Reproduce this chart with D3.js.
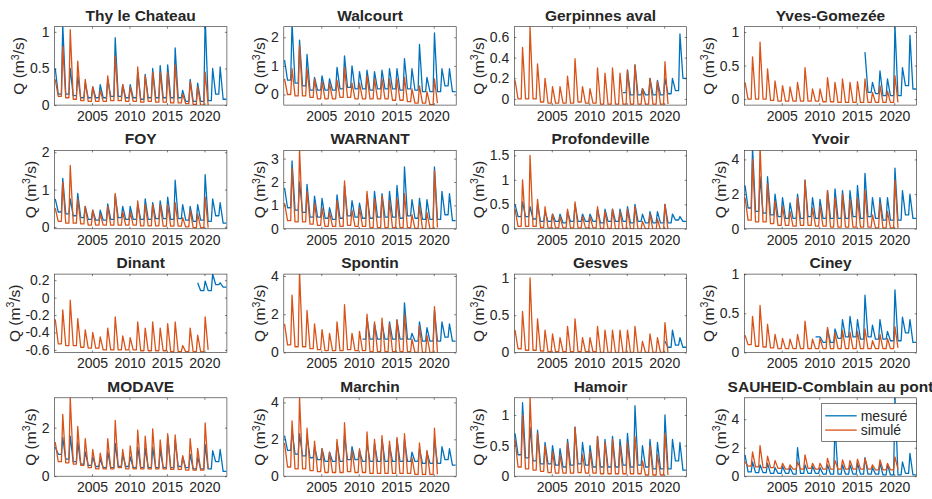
<!DOCTYPE html>
<html><head><meta charset="utf-8">
<script src="https://cdn.jsdelivr.net/npm/d3@7"></script>
<style>
body{margin:0;background:#fff}
svg{display:block}
text{font-family:Arial,"Liberation Sans",Helvetica,sans-serif;fill:#262626}
</style>
</head><body><svg id="c" width="932" height="499"></svg>
<script>
// ---------- data ----------
const stations = ["Thy le Chateau","Walcourt","Gerpinnes aval","Yves-Gomezée",
  "FOY","WARNANT","Profondeville","Yvoir",
  "Dinant","Spontin","Gesves","Ciney",
  "MODAVE","Marchin","Hamoir","SAUHEID-Comblain au pont"];
const xDomain = [2000, 2023];
const xTicks = [2005, 2010, 2015, 2020];
const yDomains = [[0,1.07],[-0.37,2.37],[-0.06,0.7],[-0.09,1.08],
  [-0.05,2.05],[0,3.35],[0,1.6],[0,4.52],
  [-0.63,0.27],[0,4.1],[0,1.05],[0,1],
  [0,3.23],[0,4.25],[0,1.28],[0,5.5]];
const yTicks = [[0,0.5,1],[0,1,2],[0,0.2,0.4,0.6],[0,0.5,1],
  [0,1,2],[0,1,2,3],[0,0.5,1,1.5],[0,2,4],
  [-0.6,-0.4,-0.2,0,0.2],[0,2,4],[0,0.5,1],[0,0.5,1],
  [0,2],[0,2,4],[0,0.5,1],[0,2,4]];
// measured series: first year, first time shown
const mesStartYear = [2000,2000,2014,2016,2000,2000,2000,2000,2019,2010,2020,2009,2000,2000,2000,2000];
const mesStartT    = [2000,2000,2014.4,2016,2000,2000,2000,2000,2019,2010.3,2019.9,2009.4,2000,2000,2000,2000];
const simEndT = 2020.7;
const legendLabels = ["mesuré","simulé"];

// yearly winter peak (P) and summer low (L); mes = mesuré, sim = simulé
const thyMesP=[0.5,1.1,0.5,0.4,0.3,0.25,0.28,0.35,0.92,0.28,0.28,0.45,0.42,0.5,0.54,0.55,0.78,0.2,0.35,0.3,1.2,0.5,0.52];
const thyMesL=[0.15,0.15,0.13,0.1,0.1,0.1,0.1,0.12,0.12,0.1,0.1,0.08,0.1,0.1,0.1,0.1,0.1,0.05,0.05,0.05,0.06,0.15,0.08];
const thySimP=[0.35,0.8,1.03,0.6,0.35,0.25,0.2,0.4,0.67,0.28,0.25,0.52,0.4,0.45,0.45,0.45,0.55,0.15,0.32,0.25,0.45];
const thySimL=[0.12,0.1,0.08,0.06,0.05,0.05,0.05,0.06,0.06,0.05,0.05,0.04,0.05,0.04,0.04,0.03,0.03,0.02,0.01,0.0,0.0];

const walMesP=[1.2,2.5,1.9,1.4,0.6,0.65,0.55,0.95,1.35,1.0,0.8,0.85,0.8,0.85,0.9,0.9,1.25,0.9,1.75,0.6,2.15,0.9,0.9];
const walMesL=[0.5,0.4,0.3,0.15,0.15,0.15,0.15,0.2,0.25,0.2,0.2,0.15,0.2,0.2,0.2,0.15,0.2,0.15,0.1,0.1,0.1,0.3,0.1];
const walSimP=[0.55,0.9,1.7,0.9,0.55,0.45,0.4,0.5,0.95,0.4,0.4,0.65,0.55,0.55,0.55,0.55,0.6,0.2,0.3,0.1,0.55];
const walSimL=[0.0,-0.05,-0.05,-0.1,-0.15,-0.15,-0.15,-0.1,-0.1,-0.15,-0.15,-0.15,-0.15,-0.15,-0.2,-0.2,-0.25,-0.3,-0.3,-0.35,-0.3];

const gerMesP=[null,0.28,0.33,0.1,0.2,0.18,0.2,0.2,0.63];
const gerMesL=[0.06,0.04,0.04,0.04,0.04,0.04,0.05,0.08,0.2];
const gerSimP=[0.18,0.5,0.7,0.34,0.2,0.12,0.12,0.22,0.39,0.12,0.1,0.3,0.25,0.3,0.25,0.28,0.33,0.1,0.2,0.17,0.36];
const gerSimL=[0.0,0.0,0.0,-0.03,-0.04,-0.04,-0.04,-0.04,-0.03,-0.04,-0.04,-0.05,-0.05,-0.05,-0.05,-0.05,-0.05,-0.05,-0.05,-0.05,-0.05];

const yveMesP=[0.7,0.25,0.42,0.3,1.1,0.47,0.95];
const yveMesL=[0.1,0.08,0.05,0.05,0.05,0.2,0.15];
const yveSimP=[0.25,0.63,0.85,0.45,0.27,0.2,0.18,0.25,0.47,0.15,0.15,0.32,0.25,0.3,0.25,0.26,0.3,0.1,0.2,0.12,0.35];
const yveSimL=[0.0,0.0,0.0,-0.02,-0.03,-0.03,-0.03,-0.03,-0.03,-0.03,-0.04,-0.04,-0.05,-0.05,-0.05,-0.05,-0.05,-0.05,-0.05,-0.05,-0.05];

const foyMesP=[0.75,1.3,0.75,0.9,0.55,0.45,0.45,0.62,0.85,0.55,0.55,0.6,0.75,0.65,0.7,0.8,1.25,0.6,0.55,0.6,1.4,0.75,0.65];
const foyMesL=[0.4,0.35,0.3,0.25,0.2,0.18,0.18,0.2,0.25,0.2,0.2,0.2,0.2,0.22,0.22,0.2,0.22,0.18,0.15,0.18,0.15,0.3,0.1];
const foySimP=[0.5,1.2,1.65,0.75,0.55,0.45,0.35,0.55,0.9,0.4,0.4,0.7,0.6,0.6,0.6,0.6,0.65,0.25,0.45,0.35,0.8];
const foySimL=[0.15,0.1,0.1,0.08,0.05,0.05,0.05,0.05,0.05,0.05,0.05,0.03,0.03,0.03,0.02,0.02,0.02,0.0,-0.02,-0.02,-0.02];

const warMesP=[1.75,2.9,2.0,1.9,1.4,1.3,0.9,1.45,1.85,1.2,1.1,1.45,1.6,1.5,1.6,1.85,2.65,1.25,1.3,1.25,2.65,1.6,1.5];
const warMesL=[0.9,0.8,0.7,0.5,0.5,0.45,0.4,0.45,0.55,0.5,0.45,0.45,0.5,0.5,0.5,0.45,0.55,0.45,0.4,0.4,0.4,0.6,0.35];
const warSimP=[1.1,2.6,3.4,1.6,1.1,0.9,0.7,1.2,2.05,0.8,0.9,1.6,1.3,1.4,1.2,1.3,1.5,0.6,1.0,0.7,2.5];
const warSimL=[0.35,0.3,0.3,0.2,0.15,0.1,0.1,0.1,0.15,0.1,0.1,0.05,0.05,0.05,0.05,0.05,0.05,0.02,0.0,0.0,0.05];

const proMesP=[0.5,0.55,0.45,0.5,0.35,0.3,0.3,0.35,0.5,0.3,0.3,0.4,0.4,0.4,0.4,0.45,0.5,0.3,0.35,0.35,0.5,0.3,0.25];
const proMesL=[0.25,0.25,0.2,0.15,0.15,0.15,0.12,0.15,0.15,0.15,0.15,0.12,0.15,0.15,0.15,0.12,0.15,0.12,0.12,0.12,0.12,0.18,0.15];
const proSimP=[0.4,1.0,1.5,0.6,0.45,0.3,0.25,0.4,0.55,0.25,0.25,0.45,0.35,0.4,0.35,0.4,0.45,0.15,0.3,0.2,0.5];
const proSimL=[0.05,0.05,0.05,0.03,0.02,0.02,0.02,0.02,0.02,0.02,0.02,0.01,0.01,0,0,0,0,0,-0.02,-0.02,-0.02];

const yvoMesP=[2.5,4.7,3.0,3.0,2.0,1.8,1.5,2.0,2.8,1.8,1.7,2.2,2.3,2.2,2.2,2.5,3.2,1.8,1.8,1.8,3.5,2.2,2.0];
const yvoMesL=[1.2,1.0,0.9,0.8,0.7,0.6,0.6,0.6,0.7,0.6,0.6,0.6,0.6,0.6,0.7,0.6,0.7,0.6,0.5,0.5,0.5,0.8,0.6];
const yvoSimP=[1.8,4.0,4.8,2.6,1.6,1.3,1.0,1.8,2.8,1.2,1.3,2.2,1.8,2.0,1.7,1.8,2.2,0.8,1.5,1.0,2.8];
const yvoSimL=[0.5,0.4,0.4,0.3,0.2,0.2,0.15,0.2,0.2,0.15,0.15,0.1,0.1,0.1,0.1,0.1,0.1,0.05,0.05,0.05,0.05];

const dinMesP=[0.17,0.19,0.27,0.17];
const dinMesL=[0.08,0.08,0.15,0.12];
const dinSimP=[-0.25,-0.14,-0.03,-0.24,-0.37,-0.4,-0.45,-0.35,-0.22,-0.44,-0.46,-0.28,-0.35,-0.28,-0.35,-0.3,-0.28,-0.55,-0.35,-0.43,-0.22];
const dinSimL=[-0.53,-0.55,-0.55,-0.57,-0.58,-0.58,-0.6,-0.6,-0.6,-0.6,-0.6,-0.61,-0.61,-0.61,-0.61,-0.62,-0.62,-0.62,-0.62,-0.62,-0.6];

const spoMesP=[1.2,1.8,1.5,1.5,1.6,1.7,2.6,1.0,1.6,1.3,2.2,1.6,1.5];
const spoMesL=[0.7,0.7,0.7,0.7,0.7,0.7,0.7,0.6,0.6,0.6,0.6,0.8,0.6];
const spoSimP=[1.5,3.0,4.2,2.2,1.5,1.2,1.0,1.6,2.5,1.0,1.1,2.0,1.6,1.8,1.5,1.7,2.0,0.7,1.4,0.9,2.4];
const spoSimL=[0.4,0.3,0.3,0.2,0.15,0.1,0.1,0.1,0.15,0.1,0.1,0.05,0.05,0.05,0.05,0.05,0.05,0,0,0,0];

const gesMesP=[0.15,0.3,0.2];
const gesMesL=[0.07,0.1,0.07];
const gesSimP=[0.3,0.55,1.0,0.45,0.3,0.25,0.2,0.35,0.45,0.2,0.2,0.35,0.3,0.3,0.3,0.3,0.35,0.15,0.25,0.2,0.4];
const gesSimL=[0.05,0.03,0.03,0.02,0.01,0.01,0.01,0.01,0.01,0.01,0.01,0,0,0,0,0,0,0,0,0,0];

const cinMesP=[null,0.2,0.3,0.3,0.42,0.46,0.42,0.73,0.35,0.42,0.27,0.8,0.45,0.42];
const cinMesL=[0.2,0.13,0.13,0.18,0.2,0.2,0.17,0.2,0.17,0.17,0.15,0.15,0.25,0.13];
const cinSimP=[0.22,0.46,0.6,0.36,0.23,0.18,0.17,0.23,0.4,0.17,0.18,0.32,0.25,0.28,0.26,0.27,0.3,0.15,0.23,0.18,0.33];
const cinSimL=[0.1,0.08,0.07,0.06,0.05,0.05,0.05,0.05,0.05,0.05,0.05,0.05,0.05,0.05,0.05,0.05,0.05,0.05,0.05,0.05,0.06];

const modMesP=[1.2,1.6,1.65,1.4,1.0,0.8,0.7,1.0,1.35,0.9,0.8,1.2,1.15,1.2,1.1,1.65,1.5,0.8,0.9,0.8,1.3,1.05,1.1];
const modMesL=[0.9,0.7,0.6,0.5,0.45,0.4,0.35,0.35,0.4,0.4,0.35,0.35,0.35,0.35,0.35,0.35,0.4,0.35,0.3,0.3,0.3,0.6,0.2];
const modSimP=[1.4,2.55,3.25,2.05,1.55,1.1,0.95,1.55,2.3,1.1,1.25,1.9,1.65,1.95,1.5,1.75,1.7,0.85,1.55,1.15,2.2];
const modSimL=[0.6,0.55,0.5,0.45,0.35,0.3,0.3,0.3,0.35,0.3,0.3,0.3,0.3,0.3,0.3,0.28,0.28,0.25,0.25,0.25,0.3];

const marMesP=[2.2,2.5,2.3,2.2,1.6,1.5,1.3,1.8,2.2,1.6,1.4,1.8,1.8,2.0,1.7,2.0,2.0,1.3,1.5,1.3,2.0,1.6,1.5];
const marMesL=[1.4,1.2,1.1,1.0,0.9,0.8,0.8,0.8,0.9,0.9,0.8,0.8,0.8,0.8,0.8,0.8,0.8,0.8,0.7,0.7,0.7,0.9,0.6];
const marSimP=[1.8,3.0,4.3,2.6,1.9,1.5,1.3,2.0,2.9,1.4,1.5,2.4,2.0,2.2,1.9,2.1,2.3,1.0,1.8,1.4,2.6];
const marSimL=[0.5,0.4,0.4,0.3,0.25,0.2,0.2,0.2,0.25,0.2,0.2,0.15,0.15,0.15,0.15,0.15,0.15,0.1,0.1,0.1,0.1];

const hamMesP=[0.7,1.2,0.8,0.75,0.55,0.5,0.45,0.6,0.8,0.55,0.5,0.65,0.6,0.65,0.6,0.7,1.15,0.5,0.6,0.55,1.0,0.6,0.55];
const hamMesL=[0.35,0.3,0.25,0.2,0.2,0.18,0.15,0.18,0.2,0.18,0.15,0.15,0.15,0.15,0.18,0.15,0.18,0.15,0.12,0.12,0.12,0.25,0.1];
const hamSimP=[0.6,1.0,1.3,0.7,0.5,0.4,0.35,0.55,0.8,0.35,0.4,0.65,0.55,0.6,0.5,0.55,0.65,0.25,0.5,0.35,0.7];
const hamSimL=[0.15,0.12,0.1,0.08,0.06,0.05,0.05,0.05,0.06,0.05,0.05,0.04,0.04,0.04,0.04,0.04,0.04,0.02,0.02,0.02,0.02];

const sauMesP=[1.5,1.0,0.8,0.9,0.6,0.7,0.6,2.0,0.8,0.7,0.6,0.8,3.5,0.8,0.8,0.9,1.3,0.6,0.9,0.8,5.6,1.0,1.6];
const sauMesL=[0.3,0.25,0.25,0.2,0.2,0.2,0.15,0.2,0.2,0.2,0.15,0.15,0.15,0.15,0.15,0.15,0.15,0.15,0.1,0.1,0.1,0.2,0.1];
const sauSimP=[1.0,1.7,2.15,1.4,1.1,0.9,0.8,1.0,1.5,0.9,0.9,1.25,1.1,1.15,1.1,1.2,1.25,0.8,1.15,0.9,1.35];
const sauSimL=[0.7,0.65,0.6,0.6,0.55,0.5,0.5,0.5,0.55,0.5,0.5,0.5,0.5,0.5,0.5,0.5,0.5,0.45,0.45,0.45,0.5];

const mesPeaks=[thyMesP,walMesP,gerMesP,yveMesP,foyMesP,warMesP,proMesP,yvoMesP,dinMesP,spoMesP,gesMesP,cinMesP,modMesP,marMesP,hamMesP,sauMesP];
const mesLows =[thyMesL,walMesL,gerMesL,yveMesL,foyMesL,warMesL,proMesL,yvoMesL,dinMesL,spoMesL,gesMesL,cinMesL,modMesL,marMesL,hamMesL,sauMesL];
const simPeaks=[thySimP,walSimP,gerSimP,yveSimP,foySimP,warSimP,proSimP,yvoSimP,dinSimP,spoSimP,gesSimP,cinSimP,modSimP,marSimP,hamSimP,sauSimP];
const simLows =[thySimL,walSimL,gerSimL,yveSimL,foySimL,warSimL,proSimL,yvoSimL,dinSimL,spoSimL,gesSimL,cinSimL,modSimL,marSimL,hamSimL,sauSimL];

// ---------- layout ----------
const colLeft = [54.5, 283.8, 514.3, 744.3];
const rowTop = [26.7, 150.4, 274.1, 397.8];
const W = 172.4, H = 78.4;
const cMes = "#0072BD", cSim = "#D95319", axC = "#262626";

function buildSeries(P, L, y0, tStart, tEnd){
  const pts = [];
  P.forEach((p, i) => {
    const yr = y0 + i;
    if (p != null) pts.push([yr + 0.1, p]);
    pts.push([yr + 0.5, L[i]]);
    pts.push([yr + 0.92, L[i]]);
  });
  return pts.filter(d => d[0] >= tStart && d[0] <= tEnd);
}

const svg = d3.select("#c");
const defs = svg.append("defs");

stations.forEach((name, i) => {
  const r = Math.floor(i / 4), c = i % 4;
  const x0 = colLeft[c], y0 = rowTop[r];
  const x = d3.scaleLinear().domain(xDomain).range([x0, x0 + W]);
  const y = d3.scaleLinear().domain(yDomains[i]).range([y0 + H, y0]);
  const g = svg.append("g");

  defs.append("clipPath").attr("id", "cp" + i)
    .append("rect").attr("x", x0).attr("y", y0).attr("width", W).attr("height", H);

  const line = d3.line().x(d => x(d[0])).y(d => y(d[1]));
  const mes = buildSeries(mesPeaks[i], mesLows[i], mesStartYear[i], mesStartT[i], 2023);
  const sim = buildSeries(simPeaks[i], simLows[i], 2000, 2000, simEndT);
  const lg = g.append("g").attr("clip-path", `url(#cp${i})`);
  lg.append("path").datum(mes).attr("d", line).attr("fill", "none")
    .attr("stroke", cMes).attr("stroke-width", 1.3).attr("stroke-linejoin", "round");
  lg.append("path").datum(sim).attr("d", line).attr("fill", "none")
    .attr("stroke", cSim).attr("stroke-width", 1.3).attr("stroke-linejoin", "round");

  // axes
  g.append("g").attr("transform", `translate(0,${y0 + H})`)
    .call(d3.axisBottom(x).tickValues(xTicks).tickFormat(d3.format("d")).tickSizeInner(-2).tickSizeOuter(0).tickPadding(6));
  const ay = g.append("g").attr("transform", `translate(${x0},0)`)
    .call(d3.axisLeft(y).tickValues(yTicks[i]).tickFormat(d => String(+d.toFixed(2))).tickSizeInner(-2).tickSizeOuter(0).tickPadding(5));
  g.append("g").attr("transform", `translate(0,${y0})`)
    .call(d3.axisTop(x).tickValues(xTicks).tickFormat("").tickSizeInner(-2).tickSizeOuter(0));
  g.append("g").attr("transform", `translate(${x0 + W},0)`)
    .call(d3.axisRight(y).tickValues(yTicks[i]).tickFormat("").tickSizeInner(-2).tickSizeOuter(0));
  g.selectAll(".domain").remove();
  g.selectAll(".tick line").attr("stroke", axC).attr("stroke-width", 0.6);
  g.selectAll(".tick text").attr("font-size", 14).attr("fill", axC)
    .style("font-family", "Arial, 'Liberation Sans', sans-serif");
  g.selectAll("g[font-family]").attr("font-family", null);

  g.append("rect").attr("x", x0).attr("y", y0).attr("width", W).attr("height", H)
    .attr("fill", "none").attr("stroke", axC).attr("stroke-width", 0.6);

  // title
  g.append("text").attr("x", x0 + W / 2).attr("y", y0 - 6)
    .attr("text-anchor", "middle").attr("font-size", 15.5).attr("font-weight", "bold")
    .attr("fill", "#000").text(name);

  // y label
  let maxW = 0;
  ay.selectAll(".tick text").each(function(){ maxW = Math.max(maxW, this.getComputedTextLength()); });
  const lx = x0 - 5 - maxW - 11;
  const yl = g.append("text").attr("transform", `translate(${lx},${y0 + H / 2}) rotate(-90)`)
    .attr("text-anchor", "middle").attr("dy", "0.35em").attr("font-size", 15.5).attr("fill", axC);
  yl.append("tspan").text("Q (m");
  yl.append("tspan").attr("font-size", 10.5).attr("dy", "-0.55em").text("3");
  yl.append("tspan").attr("dy", "0.37em").text("/s)");

  // legend in last panel
  if (i === stations.length - 1) {
    const lgx = 821.7, lgy = 403.3, lgw = W + x0 - 821.7, lgh = 38;
    const leg = svg.append("g");
    leg.append("rect").attr("x", lgx).attr("y", lgy).attr("width", lgw).attr("height", lgh)
      .attr("fill", "#fff").attr("stroke", axC).attr("stroke-width", 0.6);
    [cMes, cSim].forEach((col, k) => {
      const yy = lgy + 12.5 + k * 14.3;
      leg.append("line").attr("x1", lgx + 3.5).attr("x2", lgx + 35).attr("y1", yy).attr("y2", yy)
        .attr("stroke", col).attr("stroke-width", 1.3);
      leg.append("text").attr("x", lgx + 39).attr("y", yy).attr("dy", "0.35em")
        .attr("font-size", 14).attr("fill", axC).text(legendLabels[k]);
    });
  }
});
</script></body></html>
